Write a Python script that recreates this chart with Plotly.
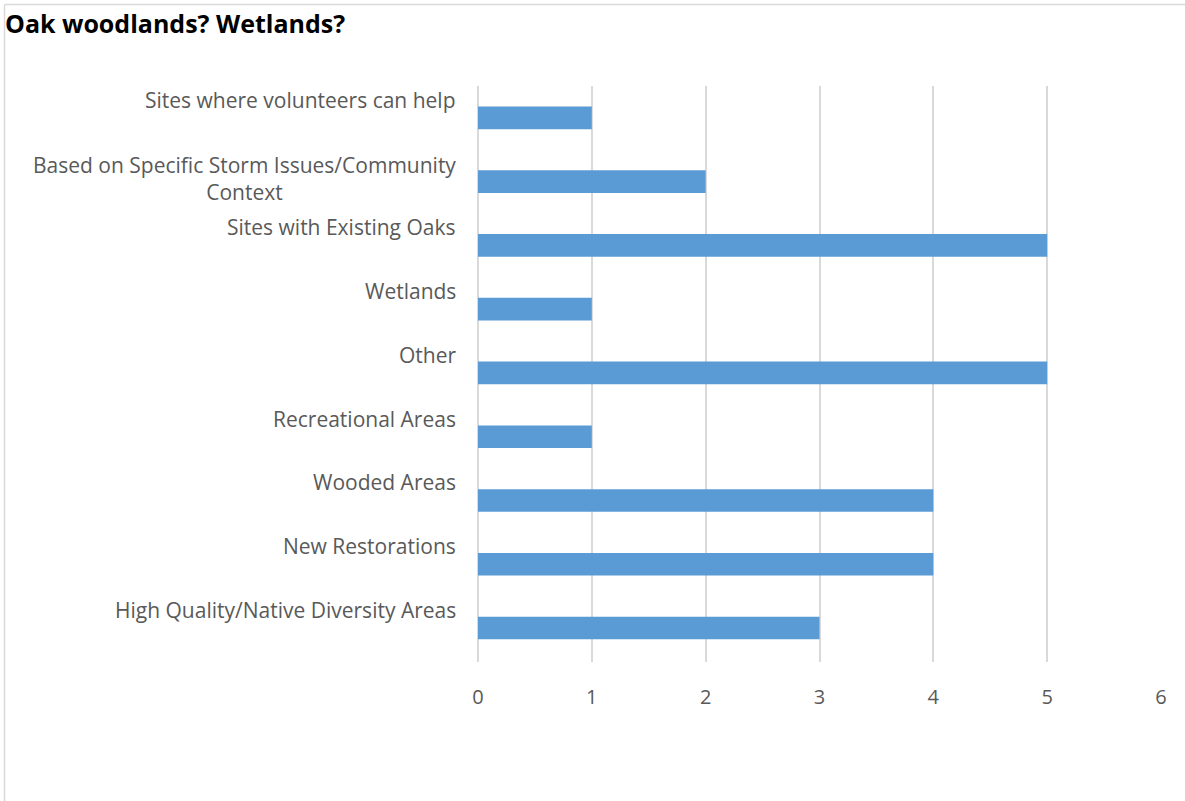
import plotly.graph_objects as go

categories = [
    "Sites where volunteers can help",
    "Based on Specific Storm Issues/Community<br>Context",
    "Sites with Existing Oaks",
    "Wetlands",
    "Other",
    "Recreational Areas",
    "Wooded Areas",
    "New Restorations",
    "High Quality/Native Diversity Areas",
]
values = [1, 2, 5, 1, 5, 1, 4, 4, 3]
x_ticks = [0, 1, 2, 3, 4, 5, 6]
title_text = "Oak woodlands? Wetlands?"

W, H = 1185, 801
# page-pixel plot area: x 478..1161, y 86..662
L, R, T, B = 478, 1185 - 1161, 86, 801 - 662
pw, ph = W - L - R, H - T - B

FONT = "Open Sans"
GRAY = "#595959"

fig = go.Figure(go.Bar(
    x=values, y=categories, orientation="h",
    marker=dict(color="#5B9BD5", line=dict(width=0)),
    width=0.355,
))

fig.update_layout(
    width=W, height=H,
    margin=dict(l=L, r=R, t=T, b=B),
    paper_bgcolor="white", plot_bgcolor="white",
    showlegend=False,
    xaxis=dict(
        range=[0, 6], tickvals=x_ticks, showgrid=True, gridcolor="#D9D9D9", gridwidth=1.5,
        zeroline=True, zerolinecolor="#D9D9D9", zerolinewidth=1.5,
        showline=False, ticks="", ticklabelstandoff=21,
        tickfont=dict(family=FONT, size=20, color=GRAY),
    ),
    yaxis=dict(
        categoryorder="array", categoryarray=categories, autorange="reversed",
        showticklabels=False, showgrid=False, zeroline=False, showline=False,
    ),
)


def px_x(p):
    return (p - L) / pw


def px_y(p):
    return (H - B - p) / ph


annotations = [dict(
    x=px_x(3), xref="paper", y=px_y(23), yref="paper",
    text="<b>" + title_text + "</b>", showarrow=False,
    xanchor="left", yanchor="middle",
    font=dict(family=FONT, size=25, color="black"),
)]
for cat in categories:
    two_line = "<br>" in cat
    annotations.append(dict(
        x=0, xref="paper", y=cat, yref="y", text=cat, showarrow=False,
        xanchor="right", yanchor="middle", xshift=-20,
        yshift=3 if two_line else 18, align="center",
        font=dict(family=FONT, size=21, color=GRAY),
    ))
fig.update_layout(annotations=annotations)

# outer border (top and left edges visible)
fig.add_shape(type="line", xref="paper", yref="paper",
              x0=px_x(4.5), x1=px_x(1200), y0=px_y(4.5), y1=px_y(4.5),
              line=dict(color="#D9D9D9", width=1.5))
fig.add_shape(type="line", xref="paper", yref="paper",
              x0=px_x(4.5), x1=px_x(4.5), y0=px_y(4.5), y1=px_y(820),
              line=dict(color="#D9D9D9", width=1.5))

fig.write_html("out.html", config={"displayModeBar": False},
               post_script="document.body.style.margin='0';")
